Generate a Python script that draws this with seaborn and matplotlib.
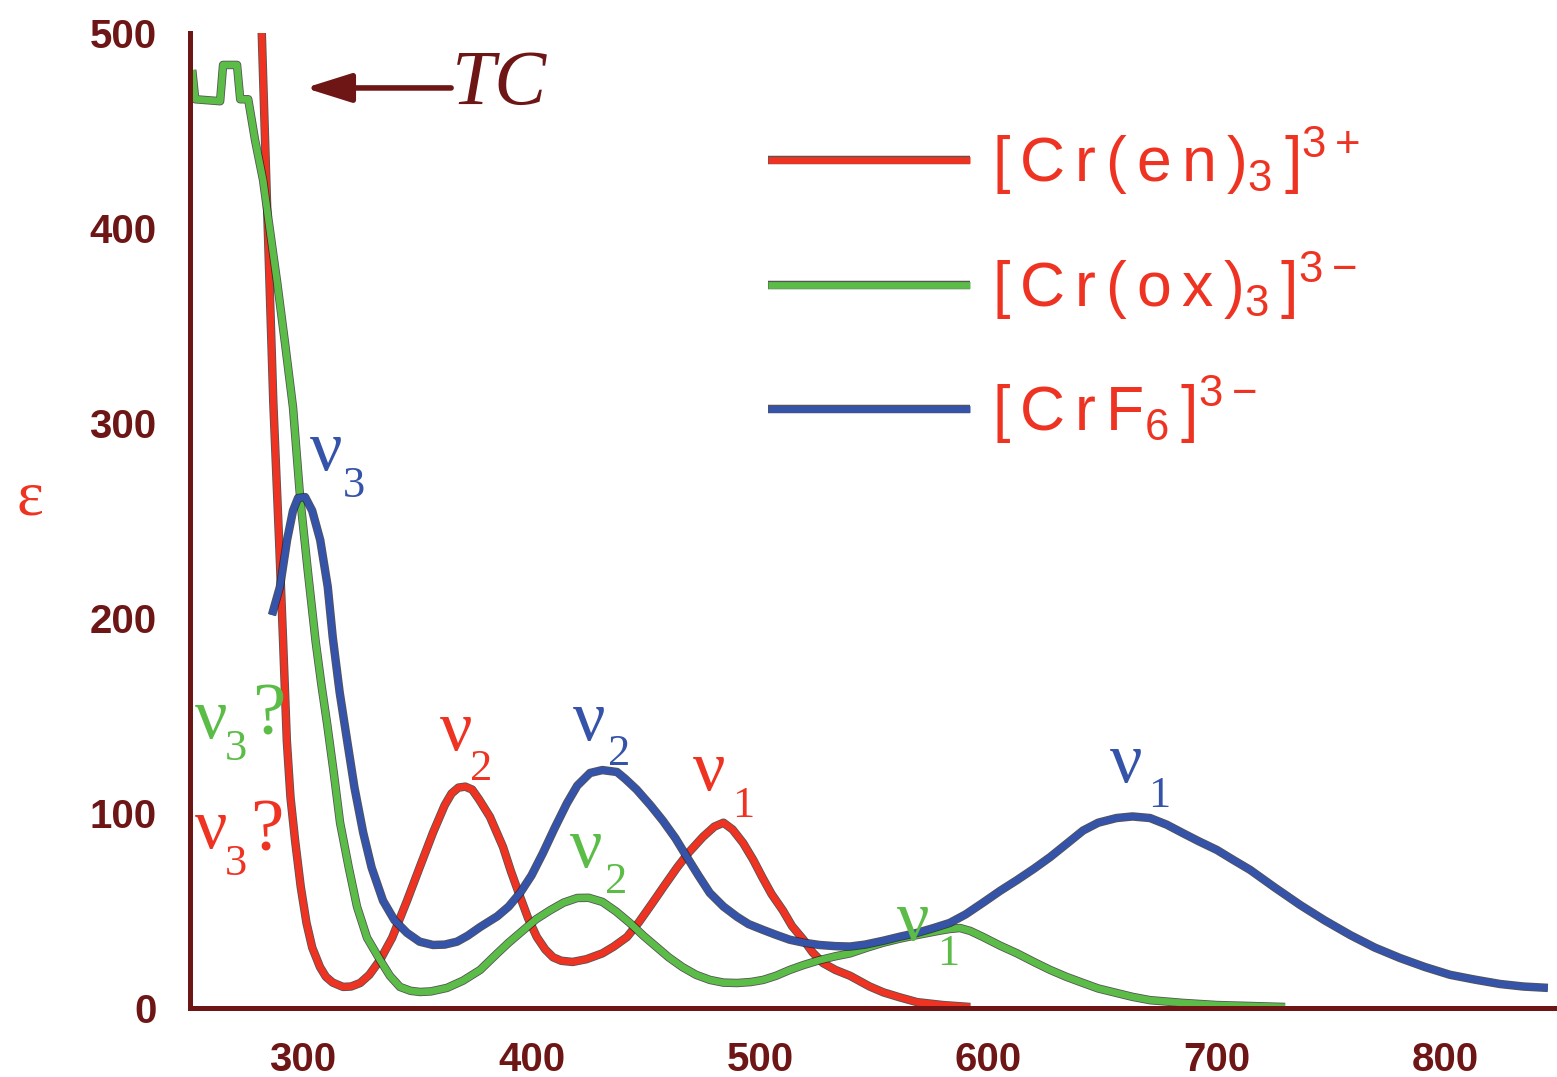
import numpy as np
import pandas as pd
import matplotlib
matplotlib.use("Agg")
import matplotlib.pyplot as plt
import matplotlib.patheffects as pe
import seaborn as sns

# ---- absorption spectra (wavelength in nm, molar absorptivity) ----
en_nm = [281.5, 281.9, 284.4, 287.0, 289.5, 291.2, 292.9, 294.5, 296.5, 299.0,
         301.5, 304.0, 307.4, 310.0, 313.0, 317.5, 321.0, 325.0, 329.0, 333.7,
         339.0, 345.5, 351.0, 356.9, 362.0, 365.0, 368.0, 371.0, 374.0, 377.0,
         381.8, 387.5, 391.0, 395.0, 398.5, 402.3, 406.0, 409.4, 413.0, 418.0,
         424.0, 431.0, 436.0, 441.8, 447.0, 453.0, 458.0, 463.7, 469.0, 475.0,
         480.0, 484.0, 488.0, 492.6, 497.0, 501.0, 505.0, 510.0, 514.0, 519.0,
         523.0, 527.6, 533.0, 539.4, 548.0, 554.0, 561.0, 568.7, 580.0, 592.0]
en_eps = [540, 501, 406, 310, 240, 190, 137, 108, 86, 62,
          43.6, 31, 21, 16, 13, 10.8, 11, 12.8, 17, 24.6,
          36, 55, 72, 90, 104, 110, 113, 113.5, 112, 107,
          98, 82.6, 70, 57, 46, 36.4, 30, 26, 24.2, 23.6,
          25, 28, 31.5, 36.4, 44, 54, 62.5, 72, 80, 87.7,
          93, 95, 91.5, 84.6, 76, 67, 58.5, 50, 42, 35,
          28.5, 23, 19.5, 16.5, 11, 8, 5.5, 3, 1.5, 0.5]

ox_nm = [251.5, 252.8, 263.7, 265.0, 271.1, 272.5, 276.0, 279.0, 282.5, 284.7,
         288.7, 292.1, 295.6, 298.7, 302.0, 305.5, 308.0, 310.5, 313.5, 316.2,
         320.0, 323.6, 328.0, 333.7, 338.0, 342.4, 347.0, 351.2, 356.0, 363.0,
         370.0, 377.5, 385.0, 390.0, 396.5, 402.0, 408.0, 414.0, 420.0, 425.0,
         431.0, 437.0, 443.0, 449.0, 455.0, 460.0, 466.0, 472.0, 478.0, 484.0,
         490.0, 496.0, 501.4, 507.0, 513.0, 519.0, 526.0, 533.0, 539.4, 547.0,
         554.0, 561.0, 568.7, 578.0, 583.0, 587.5, 592.0, 597.6, 605.0, 612.5,
         620.0, 627.0, 634.0, 641.4, 648.0, 656.0, 663.0, 670.7, 685.0, 700.0,
         715.0, 729.8]
ox_eps = [481, 466, 465, 483.6, 483.6, 466, 466, 445, 424.6, 405.6,
          371.8, 341, 308, 262, 225, 188, 166, 146, 120, 95,
          72, 52, 36, 24.6, 16.5, 10.8, 8.8, 8.2, 8.5, 10.3,
          14, 19.5, 28, 33.5, 40, 45.5, 50, 54, 56.4, 56.5,
          54.4, 49.5, 43.6, 37, 31, 26, 21, 17, 14.4, 13,
          12.8, 13.3, 14.4, 16.5, 19.5, 22, 24.5, 26.5, 28, 31,
          33.5, 35.5, 37.4, 39.5, 40.5, 41, 39.5, 36.4, 32, 28,
          23.5, 19.5, 16, 12.8, 10, 7.7, 5.7, 4, 2.6, 1.5,
          1.0, 0.5]

f6_nm = [286.4, 289.9, 293.0, 295.6, 297.8, 300.9, 304.0, 307.5, 310.8, 313.0,
         316.0, 319.3, 322.5, 326.3, 330.0, 335.0, 340.0, 345.5, 351.0, 356.9,
         362.0, 367.4, 372.0, 377.5, 385.0, 390.0, 395.0, 400.0, 405.0, 410.0,
         415.5, 420.0, 425.6, 431.0, 437.4, 441.0, 446.0, 452.0, 457.5, 463.0,
         468.0, 473.0, 478.0, 484.0, 490.0, 495.0, 501.4, 507.0, 513.0, 519.0,
         526.0, 533.0, 539.4, 546.0, 554.0, 561.0, 568.7, 576.0, 583.0, 590.0,
         597.6, 605.0, 612.5, 620.0, 627.0, 634.0, 641.4, 648.0, 656.0, 663.0,
         670.7, 678.0, 685.0, 692.0, 700.0, 707.0, 714.5, 725.0, 736.4, 747.0,
         758.3, 769.0, 780.1, 791.0, 802.0, 813.0, 823.8, 834.0, 844.8]
f6_eps = [201.5, 216, 240, 255, 261.5, 262, 255, 240, 216, 190,
          162, 137, 113, 90, 72, 55, 45, 38.5, 34, 32.3,
          32.5, 34, 37, 41.5, 47, 52, 59, 68, 79.5, 92,
          105, 114, 120.5, 122, 121, 117.5, 112, 104, 96, 87,
          77.4, 68, 59, 52, 46.7, 43, 40, 37.5, 35, 33.5,
          32.3, 31.7, 31.5, 32.5, 34.5, 36.5, 38.5, 41, 43.6, 48,
          54, 60, 65.6, 71.5, 77.4, 84, 91, 95, 97.4, 98.2,
          97.4, 94, 89.7, 85.5, 81, 76, 70.8, 62, 52.8, 45,
          37.4, 31, 25.6, 21, 17, 14.5, 12.3, 11, 10.3]

complexes = [r"$\mathregular{[\,C\,r\,(\,e\,n\,)_{3}\,]^{3+}}$",
             r"$\mathregular{[\,C\,r\,(\,o\,x\,)_{3}\,]^{3-}}$",
             r"$\mathregular{[\,C\,r\,F_{6}\,]^{3-}}$"]
x_ticks = [300, 400, 500, 600, 700, 800]
y_ticks = [0, 100, 200, 300, 400, 500]

RED = "#ee3322"
GREEN = "#5cbc48"
BLUE = "#3553a8"
MAROON = "#6e1616"
colors = [RED, GREEN, BLUE]

df = pd.concat([
    pd.DataFrame({"wavelength": en_nm, "epsilon": en_eps, "complex": complexes[0]}),
    pd.DataFrame({"wavelength": ox_nm, "epsilon": ox_eps, "complex": complexes[1]}),
    pd.DataFrame({"wavelength": f6_nm, "epsilon": f6_eps, "complex": complexes[2]}),
], ignore_index=True)

sns.set_style("white")
plt.rcParams["font.family"] = ["Liberation Sans", "DejaVu Sans"]

fig = plt.figure(figsize=(15.57, 10.77), dpi=100)
ax = fig.add_axes([0.122, 0.0641, 0.878, 0.9053])

sns.lineplot(data=df, x="wavelength", y="epsilon", hue="complex",
             hue_order=complexes, palette=dict(zip(complexes, colors)),
             estimator=None, sort=False, linewidth=4.9, legend=False, ax=ax)

for ln in ax.lines:
    ln.set_path_effects([pe.Stroke(linewidth=6.1, foreground="#1c1c1c", alpha=0.75),
                         pe.Normal()])
    ln.set_solid_joinstyle("round")
    ln.set_solid_capstyle("butt")

ax.set_xlim(250.5, 848.8)
ax.set_ylim(0, 500)
ax.set_xticks(x_ticks)
ax.set_yticks(y_ticks)
ax.set_xlabel("")

for side in ("top", "right"):
    ax.spines[side].set_visible(False)
for side in ("left", "bottom"):
    ax.spines[side].set_color(MAROON)
    ax.spines[side].set_linewidth(3.6)
ax.tick_params(direction="out", length=16, width=3.6, color=MAROON,
               labelcolor=MAROON, labelsize=29, pad=8)
for lab in ax.get_xticklabels() + ax.get_yticklabels():
    lab.set_fontweight("bold")

ax.set_ylabel("ε", rotation=0, color=RED, fontsize=46,
              family=["Liberation Serif", "DejaVu Serif"], ha="center", va="center")
ax.yaxis.set_label_coords(-0.117, 0.521)

# legend
leg = ax.legend(ax.lines, complexes, loc="upper left",
                bbox_to_anchor=(768 / 1557, 1 - 126 / 1077),
                bbox_transform=fig.transFigure, frameon=False, fontsize=45,
                handlelength=3.23, handletextpad=0.35, labelspacing=0.85,
                borderpad=0, borderaxespad=0, labelcolor=RED)

# charge-transfer arrow
ax.annotate("", xy=(300.9, 471.8), xytext=(364.8, 471.8),
            arrowprops=dict(arrowstyle="-|>,head_length=0.7,head_width=0.22",
                            lw=4, color=MAROON, mutation_scale=40,
                            shrinkA=0, shrinkB=0))
ax.text(365.2, 473.3, "TC", color=MAROON, fontsize=56, style="italic",
        family=["Liberation Serif", "DejaVu Serif"], ha="left", va="center")

# band assignments
SERIF = ["Liberation Serif", "DejaVu Serif"]


def band(x, y, sub, sx, sy, color, q=None):
    ax.text(x, y, "ν", color=color, fontsize=52, family=SERIF,
            ha="left", va="baseline")
    ax.text(sx, sy, sub, color=color, fontsize=32, family=SERIF,
            ha="left", va="baseline")
    if q is not None:
        ax.text(q[0], q[1], "?", color=color, fontsize=54, family=SERIF,
                ha="left", va="baseline")


band(303.1, 276.0, "3", 317.5, 262.0, BLUE)
band(252.8, 138.5, "3", 265.9, 127.2, GREEN, q=(277.7, 140.0))
band(252.8, 82.0, "3", 265.9, 68.2, RED, q=(276.8, 81.0))
band(359.9, 132.3, "2", 373.1, 117.0, RED)
band(418.2, 137.4, "2", 433.5, 124.6, BLUE)
band(470.7, 111.8, "1", 487.7, 98.0, RED)
band(416.8, 72.3, "2", 432.2, 59.0, GREEN)
band(653.2, 115.9, "1", 669.8, 103.0, BLUE)
band(560.0, 34.9, "1", 577.5, 22.0, GREEN)

fig.savefig("out.png", dpi=100)
